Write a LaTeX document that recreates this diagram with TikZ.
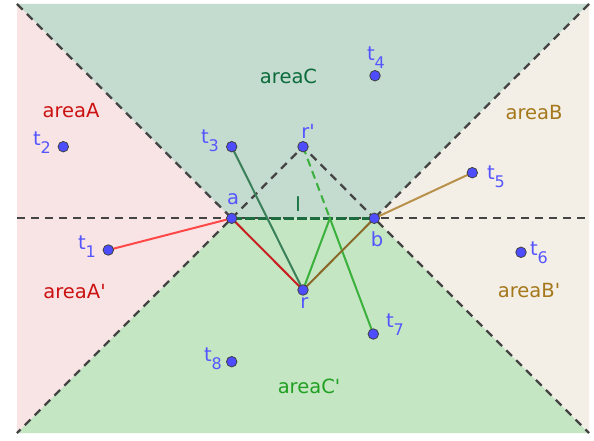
\documentclass[tikz,border=0pt]{standalone}
\usepackage{fontspec}
\setmainfont{DejaVu Sans}[Ligatures=TeXOff]
\usetikzlibrary{calc}
\definecolor{fillA}{HTML}{F8E4E4}
\definecolor{fillB}{HTML}{F3EEE6}
\definecolor{fillC}{HTML}{C4DBCF}
\definecolor{fillCp}{HTML}{C4E6C3}
\definecolor{labA}{HTML}{CC1111}
\definecolor{labB}{HTML}{A5781C}
\definecolor{labC}{HTML}{0B6B3A}
\definecolor{labCp}{HTML}{22A022}
\definecolor{ptblue}{HTML}{4D4DFF}
\definecolor{lblue}{HTML}{5555FF}
\definecolor{dashgray}{HTML}{444444}
\definecolor{lred}{HTML}{FF4848}
\definecolor{lredd}{HTML}{C82020}
\definecolor{lgreen}{HTML}{3CB03C}
\definecolor{ldgreen}{HTML}{3A8058}
\definecolor{lbrown}{HTML}{B8914A}
\definecolor{lbrownd}{HTML}{8A6A2A}
\definecolor{lline}{HTML}{1E6B40}
\newcommand{\tsub}[1]{t\raisebox{-0.42em}{\fontsize{16}{16}\selectfont #1}}
\begin{document}
\begin{tikzpicture}[x=1pt,y=-1pt,
  fontstd/.style={font=\fontsize{19.5}{22}\selectfont},
  arealab/.style={fontstd,inner sep=0pt},
  ptlab/.style={fontstd,text=lblue,inner sep=0pt},
  guide/.style={draw=dashgray,line width=2.3pt,dash pattern=on 8pt off 6pt},
  seg/.style={line width=2pt},
  pt/.style={circle,fill=ptblue,draw=black!75,line width=0.8pt,minimum size=10.5pt,inner sep=0pt}]
\useasboundingbox (0,0) rectangle (594,441);
% frame coordinates
\coordinate (TL) at (17,4);
\coordinate (TR) at (589,4);
\coordinate (BL) at (17,433);
\coordinate (BR) at (589,433);
\coordinate (ML) at (17,218.3);
\coordinate (MR) at (589,218.3);
% points
\coordinate (a) at (231.7,218.3);
\coordinate (b) at (374.3,218.3);
\coordinate (r) at (303.0,290.0);
\coordinate (rp) at (303.0,146.7);
\coordinate (t1) at (108.3,250.0);
\coordinate (t2) at (63.3,146.7);
\coordinate (t3) at (231.7,146.7);
\coordinate (t4) at (375.0,75.7);
\coordinate (t5) at (472.3,172.7);
\coordinate (t6) at (521.0,252.3);
\coordinate (t7) at (373.3,334.0);
\coordinate (t8) at (231.7,361.7);
\coordinate (P) at (intersection of rp--t7 and a--b);
% regions
\fill[fillA] (TL) -- (a) -- (ML) -- cycle;
\fill[fillA] (ML) -- (a) -- (BL) -- cycle;
\fill[fillC] (TL) -- (TR) -- (b) -- (a) -- cycle;
\fill[fillCp] (a) -- (b) -- (BR) -- (BL) -- cycle;
\fill[fillB] (TR) -- (MR) -- (b) -- cycle;
\fill[fillB] (MR) -- (BR) -- (b) -- cycle;
% guide lines
\draw[guide] (ML) -- (MR);
\draw[guide] (TL) -- (a) -- (BL);
\draw[guide] (TR) -- (b) -- (BR);
\draw[guide] (a) -- (rp) -- (b);
% line l
\draw[draw=lline,line width=3pt,dash pattern=on 10pt off 3pt] (a) -- (b);
% segments
\draw[seg,lred] (t1) -- (a);
\draw[seg,lredd] (a) -- (r);
\draw[seg,ldgreen] (t3) -- (r);
\draw[seg,lgreen] (r) -- (P) -- (t7);
\draw[seg,lgreen,dash pattern=on 8pt off 5pt] (rp) -- (P);
\draw[seg,lbrown] (b) -- (t5);
\draw[seg,lbrownd] (b) -- (r);
% dots
\foreach \p in {a,b,r,rp,t1,t2,t3,t4,t5,t6,t7,t8}
  \node[pt] (\p-dot) at (\p) {};
% area labels
\node[arealab,text=labA] (lA) at (71,110.5) {areaA};
\node[arealab,text=labA] (lAp) at (74.5,292) {areaA'};
\node[arealab,text=labC] (lC) at (288.5,76) {areaC};
\node[arealab,text=labCp] (lCp) at (309,386) {areaC'};
\node[arealab,text=labB] (lB) at (534,112.5) {areaB};
\node[arealab,text=labB] (lBp) at (529,291) {areaB'};
% point labels
\node[ptlab] (l-t1) at (87,247) {\tsub{1}};
\node[ptlab] (l-t2) at (42,143) {\tsub{2}};
\node[ptlab] (l-t3) at (210,141) {\tsub{3}};
\node[ptlab] (l-t4) at (376,58) {\tsub{4}};
\node[ptlab] (l-t5) at (496,177) {\tsub{5}};
\node[ptlab] (l-t6) at (539,253) {\tsub{6}};
\node[ptlab] (l-t7) at (395,325) {\tsub{7}};
\node[ptlab] (l-t8) at (213,359) {\tsub{8}};
\node[ptlab] (l-a) at (233,199) {a};
\node[ptlab] (l-b) at (377,239) {b};
\node[ptlab] (l-r) at (304.5,303) {r};
\node[ptlab] (l-rp) at (308,131) {r'};
\node[fontstd,text=labC,inner sep=0pt] (l-l) at (298,204) {l};
\end{tikzpicture}
\end{document}
